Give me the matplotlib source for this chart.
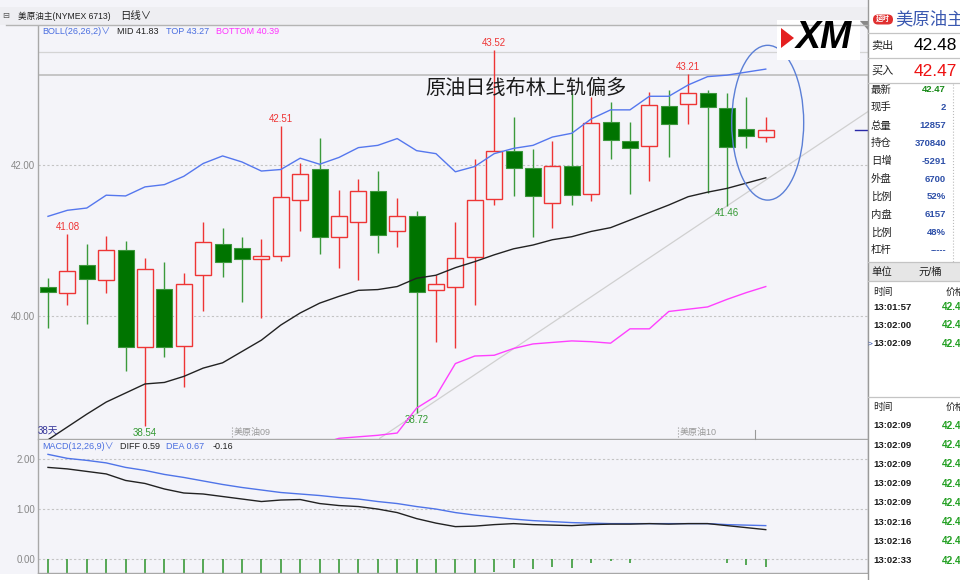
import numpy as np
import matplotlib.pyplot as plt
from matplotlib.patches import Rectangle, Ellipse, Polygon, FancyBboxPatch

plt.rcParams['font.family'] = ['Liberation Sans', 'Noto Sans CJK SC', 'DejaVu Sans']

# 美原油主 日线, 38根K线
opens = [40.38, 40.31, 40.67, 40.48, 40.87, 39.59, 40.36, 39.60, 40.54, 40.96,
         40.90, 40.76, 40.80, 41.54, 41.95, 41.05, 41.25, 41.65, 41.12, 41.32,
         40.34, 40.38, 40.78, 41.55, 42.18, 41.96, 41.49, 41.98, 41.62, 42.57,
         42.32, 42.25, 42.78, 42.81, 42.95, 42.75, 42.48, 42.37]
highs = [40.50, 41.08, 40.95, 41.06, 40.99, 40.77, 40.72, 40.57, 41.25, 41.17,
         41.05, 41.02, 42.51, 42.02, 42.36, 41.67, 41.82, 41.92, 41.56, 41.39,
         40.54, 41.25, 42.08, 43.52, 42.64, 42.21, 42.32, 42.96, 42.90, 42.83,
         42.57, 42.97, 42.99, 43.21, 42.99, 42.96, 42.90, 42.64]
lows = [39.84, 40.15, 39.89, 40.30, 39.27, 38.54, 39.46, 39.06, 40.07, 40.51,
        40.18, 39.97, 40.73, 41.13, 40.82, 40.64, 40.48, 40.84, 40.92, 38.72,
        39.65, 39.58, 40.14, 41.47, 41.59, 41.05, 41.16, 41.47, 41.52, 42.08,
        41.61, 41.79, 42.10, 42.54, 41.63, 41.46, 42.22, 42.30]
closes = [40.32, 40.59, 40.49, 40.88, 39.59, 40.62, 39.59, 40.43, 40.98, 40.72,
          40.76, 40.80, 41.57, 41.88, 41.05, 41.33, 41.65, 41.07, 41.32, 40.32,
          40.43, 40.77, 41.53, 42.19, 41.96, 41.59, 41.99, 41.60, 42.55, 42.33,
          42.22, 42.80, 42.54, 42.96, 42.77, 42.24, 42.39, 42.47]

# BOLL(26,26,2)
boll_top = [41.32, 41.40, 41.43, 41.60, 41.59, 41.71, 41.74, 41.85, 42.02, 42.12,
            42.04, 41.92, 41.94, 42.09, 42.01, 42.10, 42.23, 42.26, 42.35, 42.19,
            42.15, 41.91, 41.98, 42.15, 42.22, 42.26, 42.37, 42.42, 42.61, 42.73,
            42.73, 42.91, 42.91, 43.06, 43.17, 43.19, 43.23, 43.27]
boll_mid = [38.36, 38.53, 38.70, 38.86, 38.98, 39.10, 39.12, 39.20, 39.31, 39.38,
            39.53, 39.68, 39.88, 40.04, 40.17, 40.26, 40.34, 40.35, 40.39, 40.50,
            40.54, 40.64, 40.72, 40.81, 40.89, 40.94, 41.01, 41.05, 41.12, 41.17,
            41.27, 41.37, 41.47, 41.58, 41.64, 41.69, 41.76, 41.83]
boll_bot = [35.40, 35.66, 35.97, 36.12, 36.37, 36.49, 36.50, 36.55, 36.60, 36.64,
            37.02, 37.44, 37.82, 37.99, 38.30, 38.38, 38.40, 38.42, 38.45, 38.78,
            38.94, 39.37, 39.47, 39.48, 39.57, 39.63, 39.65, 39.67, 39.66, 39.64,
            39.83, 39.83, 40.06, 40.09, 40.12, 40.22, 40.31, 40.39]

# MACD(12,26,9)
diff_line = [1.83, 1.80, 1.75, 1.70, 1.57, 1.51, 1.40, 1.32, 1.30, 1.25,
             1.20, 1.15, 1.18, 1.19, 1.11, 1.07, 1.05, 1.00, 0.93, 0.81,
             0.72, 0.65, 0.66, 0.69, 0.71, 0.69, 0.68, 0.67, 0.69, 0.70,
             0.70, 0.71, 0.70, 0.71, 0.71, 0.67, 0.63, 0.59]
dea_line = [2.09, 2.01, 1.97, 1.92, 1.83, 1.77, 1.69, 1.63, 1.56, 1.49,
            1.43, 1.38, 1.33, 1.30, 1.27, 1.23, 1.20, 1.15, 1.11, 1.05,
            1.00, 0.93, 0.88, 0.84, 0.80, 0.77, 0.75, 0.73, 0.72, 0.71,
            0.71, 0.71, 0.71, 0.71, 0.71, 0.69, 0.68, 0.67]
macd_bar = [-0.52, -0.42, -0.44, -0.44, -0.52, -0.52, -0.58, -0.62, -0.52, -0.48,
            -0.46, -0.46, -0.40, -0.38, -0.40, -0.40, -0.40, -0.40, -0.40, -0.48,
            -0.56, -0.52, -0.42, -0.25, -0.17, -0.19, -0.15, -0.17, -0.08, -0.04,
            -0.07, 0.0, 0.01, 0.01, 0.0, -0.08, -0.12, -0.16]

peak_idx = [1, 12, 23, 33]
trough_idx = [5, 19, 35]

# 画线工具: 上升趋势线和椭圆
trend_x = [17.1, 42.4]
trend_y = [38.38, 42.73]
ellipse_c = (37.1, 42.56)
ellipse_wh = (3.71, 2.05)
last_price = 42.47

# 右侧报价板
quote_labels = ['最新', '现手', '总量', '持仓', '日增', '外盘', '比例', '内盘', '比例', '杠杆']
quote_values = ['42.47', '2', '12857', '370840', '-5291', '6700', '52%', '6157', '48%', '-----']
ticks_1 = ['13:01:57', '13:02:00', '13:02:09']
ticks_2 = ['13:02:09', '13:02:09', '13:02:09', '13:02:09', '13:02:09',
           '13:02:16', '13:02:16', '13:02:33']

BG = '#f4f4f9'
RED = '#ee3535'
GREEN = '#007400'
GREEN_W = '#3b9a3b'
GRID = '#c4c4c4'
W, H = 970, 580


def box(x0, y0, x1, y1):
    return [x0 / W, 1 - y1 / H, (x1 - x0) / W, (y1 - y0) / H]


fig = plt.figure(figsize=(9.7, 5.8), dpi=100, facecolor=BG)
ax = fig.add_axes(box(38, 25, 868, 439), facecolor=BG)
mx = fig.add_axes(box(38, 439.5, 868, 573), facecolor=BG)
n = len(opens)
idx = np.arange(n)
xlim = (-0.515, 42.27)

# ---------- K线主图 ----------
for i in range(n):
    o, h, l, c = opens[i], highs[i], lows[i], closes[i]
    up = c >= o
    ax.vlines(i, l, h, color=RED if up else GREEN_W, lw=1.0, zorder=2)
    b = min(o, c)
    hh = max(abs(c - o), 0.02)
    if up:
        ax.add_patch(Rectangle((i - 0.41, b), 0.82, hh, fc=BG, ec=RED, lw=1.0, zorder=3))
    else:
        ax.add_patch(Rectangle((i - 0.41, b), 0.82, hh, fc=GREEN, ec='#3c963c', lw=0.8, zorder=3))

ax.plot(idx, boll_top, color='#5577ee', lw=1.0, zorder=4)
ax.plot(idx, boll_mid, color='#222222', lw=1.0, zorder=4)
ax.plot(idx, boll_bot, color='#ff40ff', lw=1.0, zorder=4)
ax.plot(trend_x, trend_y, color='#d0d0d0', lw=0.9, zorder=1)
ax.add_patch(Ellipse(ellipse_c, ellipse_wh[0], ellipse_wh[1], fc='none', ec='#5b7fd6', lw=1.0, zorder=5))
ax.plot([41.6, xlim[1]], [last_price, last_price], color='#2a2aa8', lw=1.0, zorder=5)

for yv in [40, 42]:
    ax.axhline(yv, color=GRID, lw=0.8, ls=(0, (2, 2)), zorder=0)
ax.axhline(43.49, color='#d4d4d4', lw=0.9, zorder=0)
ax.axhline(43.19, color='#bdbdbd', lw=1.2, zorder=0)

for i in peak_idx:
    ax.annotate(f'{highs[i]:.2f}', (i, highs[i]), xytext=(0, 1.5), textcoords='offset points',
                ha='center', va='bottom', fontsize=7, color=RED)
for i in trough_idx:
    ax.annotate(f'{lows[i]:.2f}', (i, lows[i]), xytext=(0, -1.5), textcoords='offset points',
                ha='center', va='top', fontsize=7, color='#339933')

ax.set_xlim(*xlim)
ax.set_ylim(38.371, 43.854)
ax.set_xticks([])
ax.set_yticks([40, 42], ['40.00', '42.00'])
ax.tick_params(axis='y', length=0, pad=2, labelsize=7, labelcolor='#888888')

# ---------- MACD ----------
bar_cols = [RED if v > 0 else '#3a9a3a' for v in macd_bar]
mx.vlines(idx, 0, macd_bar, colors=bar_cols, lw=1.2)
mx.plot(idx, dea_line, color='#4f74e8', lw=1.0)
mx.plot(idx, diff_line, color='#222222', lw=1.0)
for yv in [0, 1, 2]:
    mx.axhline(yv, color=GRID, lw=0.8, ls=(0, (2, 2)), zorder=0)
mx.set_xlim(*xlim)
mx.set_ylim(-0.274, 2.386)
mx.set_xticks([])
mx.set_yticks([0, 1, 2], ['0.00', '1.00', '2.00'])
mx.tick_params(axis='y', length=0, pad=2, labelsize=7, labelcolor='#888888')

for a in (ax, mx):
    a.spines['top'].set_visible(False)
    for s in ('left', 'bottom', 'right'):
        a.spines[s].set_color('#a8a8a8')
        a.spines[s].set_linewidth(1.0)

# ---------- 覆盖层 (像素坐标) ----------
ov = fig.add_axes([0, 0, 1, 1], zorder=5)
ov.set_xlim(0, W)
ov.set_ylim(H, 0)
ov.axis('off')
ov.patch.set_visible(False)

# 标题栏
ov.add_patch(Rectangle((0, 7), 868, 17.5, fc='#eeeef2', ec='none'))
ov.plot([6, 868], [24.5, 24.5], color='#b4b4b4', lw=1.0)
ov.text(2, 16, '⊟', fontsize=6, color='#555555', va='center')
ov.text(18, 16, '美原油主(NYMEX 6713)', fontsize=6.2, color='#222222', va='center')
ov.text(120, 16, '日线∨', fontsize=7.5, color='#222222', va='center')

# 指标标题
ov.text(42, 31.5, 'BOLL(26,26,2)∨', fontsize=6.5, color='#4a6ee0', va='center')
ov.text(117, 31.5, 'MID 41.83', fontsize=6.5, color='#222222', va='center')
ov.text(166, 31.5, 'TOP 43.27', fontsize=6.5, color='#4a6ee0', va='center')
ov.text(216, 31.5, 'BOTTOM 40.39', fontsize=6.5, color='#ff33ff', va='center')
ov.text(42, 446.5, 'MACD(12,26,9)∨', fontsize=6.5, color='#4a6ee0', va='center')
ov.text(120, 446.5, 'DIFF 0.59', fontsize=6.5, color='#222222', va='center')
ov.text(166, 446.5, 'DEA 0.67', fontsize=6.5, color='#4a6ee0', va='center')
ov.text(213, 446.5, '-0.16', fontsize=6.5, color='#222222', va='center')

ov.text(425, 88, '原油日线布林上轨偏多', fontsize=14.5, color='#1a1a1a', va='center',
        family=['Noto Sans CJK SC', 'DejaVu Sans'])

# 底部标签
ov.text(38, 431, '38天', fontsize=7, color='#333399', va='center')
ov.plot([232, 232], [427, 438], color='#999999', lw=0.8, ls=':')
ov.text(234, 432, '美原油09', fontsize=6.5, color='#999999', va='center')
ov.plot([678, 678], [427, 438], color='#999999', lw=0.8, ls=':')
ov.text(680, 432, '美原油10', fontsize=6.5, color='#999999', va='center')
ov.plot([755, 755], [430, 439], color='#999999', lw=0.8)
ov.add_patch(Rectangle((0, 573.5), 868, 7, fc='white', ec='none'))

# XM 标志
ov.add_patch(Rectangle((777, 20), 83, 40, fc='white', ec='none'))
ov.add_patch(Polygon([(781, 28), (794, 38), (781, 48)], closed=True, fc='#e42020', ec='none'))
ov.text(824, 38, 'XM', fontsize=27, fontweight='heavy', style='italic', color='black',
        ha='center', va='center')
ov.add_patch(Polygon([(860, 21), (868, 21), (868, 30)], closed=True, fc='#888888', ec='none'))

# ---------- 右侧报价板 ----------
ov.add_patch(Rectangle((868.5, 0), 102, 580, fc='white', ec='none'))
ov.plot([868.5, 868.5], [0, 580], color='#9a9a9a', lw=1.0)
for yl in [33, 58, 83, 262, 281, 397]:
    ov.plot([868.5, 960], [yl, yl], color='#c4c4c4', lw=0.9)
ov.add_patch(Rectangle((868.5, 262), 92, 19, fc='#e6e6e6', ec='none'))

ov.add_patch(FancyBboxPatch((873, 14.5), 20, 10, boxstyle='round,pad=0,rounding_size=5',
                            fc='#e03030', ec='none'))
ov.text(883, 19.5, '延时', fontsize=5, color='white', ha='center', va='center', fontweight='bold')
ov.text(895, 19.5, '美原油主', fontsize=12.5, color='#3a58b0', va='center')

ov.text(871, 46, '卖出', fontsize=8, color='#222222', va='center')
ov.text(957, 46, '42.48', fontsize=12.5, color='black', ha='right', va='center')
ov.text(871, 71, '买入', fontsize=8, color='#222222', va='center')
ov.text(957, 71, '42.47', fontsize=12.5, color='#ee1111', ha='right', va='center')

for k, (lab, val) in enumerate(zip(quote_labels, quote_values)):
    yy = 90 + 17.8 * k
    ov.text(871, yy, lab, fontsize=7.5, color='#222222', va='center')
    ov.text(946, yy, val, fontsize=6.8, fontweight='bold', ha='right', va='center',
            color='#1a8a1a' if k == 0 else '#2d4fa8')
ov.plot([953, 953], [84, 262], color='#bbbbbb', lw=0.8, ls=':')
ov.text(871, 271.5, '单位', fontsize=7.5, color='#222222', va='center')
ov.text(918, 271.5, '元/桶', fontsize=7.5, color='#222222', va='center')

for y0 in [292, 407.3]:
    ov.text(873, y0, '时间', fontsize=7, color='#222222', va='center')
    ov.text(946, y0, '价格', fontsize=7, color='#222222', va='center')
for k, t in enumerate(ticks_1):
    yy = 307 + 18.3 * k
    ov.text(873, yy, t, fontsize=6.8, fontweight='bold', color='#1a1a1a', va='center')
    ov.text(942, yy, '42.47', fontsize=7.2, fontweight='bold', color='#22a022', va='center')
ov.text(870, 307 + 18.3 * 2, '>', fontsize=6, color='#2a4aa8', ha='center', va='center')
for k, t in enumerate(ticks_2):
    yy = 425.7 + 19.3 * k
    ov.text(873, yy, t, fontsize=6.8, fontweight='bold', color='#1a1a1a', va='center')
    ov.text(942, yy, '42.47', fontsize=7.2, fontweight='bold', color='#22a022', va='center')

# 截图右侧边缘留白
ov.add_patch(Rectangle((960, 0), 10, 580, fc='white', ec='none', zorder=10))

plt.savefig('out.png', dpi=100, facecolor=BG)
